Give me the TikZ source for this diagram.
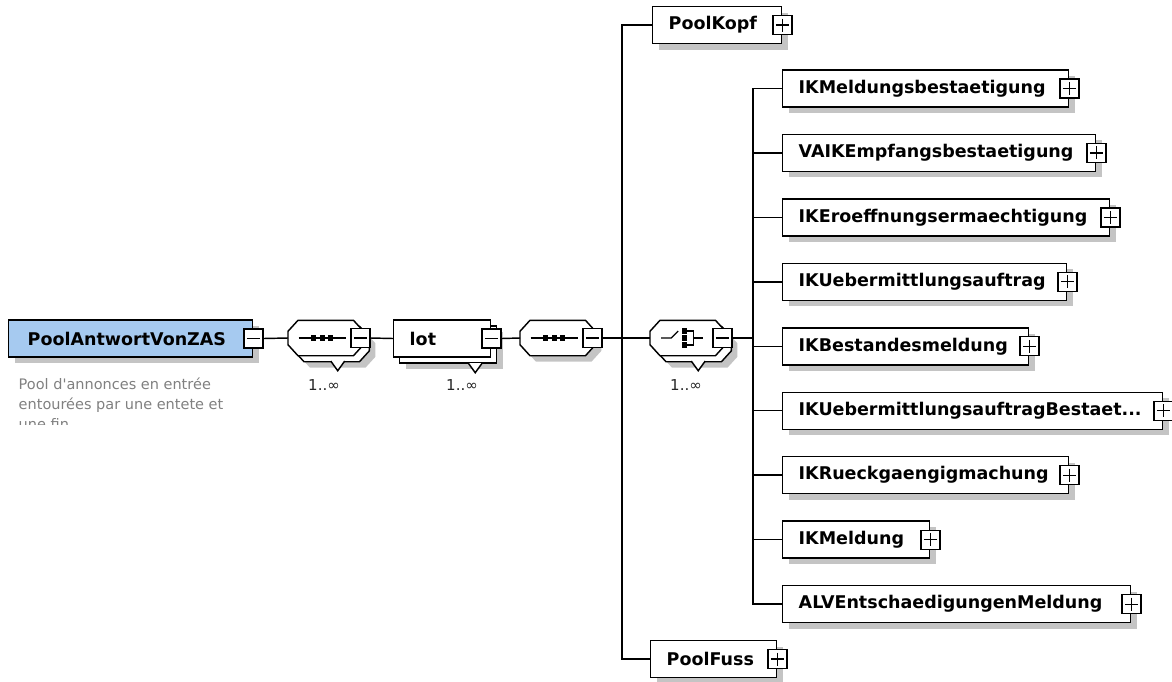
\documentclass[tikz,border=0pt]{standalone}
\usepackage{fontspec}
\setmainfont{DejaVu Sans}
\usetikzlibrary{positioning,shadows}
\definecolor{rootblue}{RGB}{166,202,240}
\definecolor{descgray}{RGB}{128,128,128}
\definecolor{shadowgray}{RGB}{196,196,196}

\begin{document}
\begin{tikzpicture}[x=1pt, y=-1pt, line width=1.45pt,
    node distance=26pt,
    dropsh/.style={drop shadow={shadow xshift=6pt, shadow yshift=-6pt, opacity=1, fill=shadowgray}},
    elembox/.style={rectangle, draw, fill=white, anchor=west, minimum width=#1pt, text width=#1pt-32pt, minimum height=37pt, inner xsep=16pt, inner ysep=0pt, align=left, font=\fontsize{17.5}{20}\selectfont\bfseries},
    elem/.style={elembox=#1, dropsh},
    oct/.style={rectangle, anchor=west, minimum width=74pt, minimum height=34pt, inner sep=0pt},
    mtog/.style={rectangle, draw, fill=white, minimum size=19pt, inner sep=0pt, line width=1.3pt,
        path picture={\draw[line width=1.1pt] ([xshift=3pt]path picture bounding box.west) -- ([xshift=-3pt]path picture bounding box.east);}},
    ptog/.style={rectangle, draw, fill=white, minimum size=19pt, inner sep=0pt, line width=1.3pt,
        path picture={\draw[line width=1.1pt] ([xshift=3pt]path picture bounding box.west) -- ([xshift=-3pt]path picture bounding box.east)
            ([yshift=-3pt]path picture bounding box.north) -- ([yshift=3pt]path picture bounding box.south);}},
    mult/.style={font=\fontsize{15}{18}\selectfont, text=black!85, inner sep=0pt},
    symb/.style={line width=1.2pt}
]
\useasboundingbox (0,0) rectangle (1172,681);

% root element
\node[elem=244, fill=rootblue, inner xsep=19pt, text width=244pt-38pt] (root) at (8,338.5) {PoolAntwortVonZAS};
\node[mtog] (roott) at (root.east) {};
\begin{scope}
  \clip (0,362) rectangle (300,424);
  \node[anchor=north west, align=left, inner sep=0pt, text=descgray, font=\fontsize{14.5}{20}\selectfont] (desc) at (18,377) {Pool d\textquotesingle{}annonces en entrée\\entourées par une entete et\\une fin};
\end{scope}

% compositors (octagons)
\node[oct] (s1c) at (294,344) {};
\node[oct] (s1) at (288,338) {};
\node[oct] (s2) at (520,338) {};
\node[oct] (chc) at (656,344) {};
\node[oct] (ch) at (650,338) {};
\foreach \n/\sh in {s1c/dropsh, s2/dropsh, chc/dropsh, s1/, ch/}
  \draw[fill=white, \sh] ([xshift=10pt]\n.north west) -- ([xshift=-10pt]\n.north east) -- ([yshift=-11pt]\n.north east)
    -- ([yshift=11pt]\n.south east) -- ([xshift=-10pt]\n.south east) -- ([xshift=10pt]\n.south west)
    -- ([yshift=11pt]\n.south west) -- ([yshift=-11pt]\n.north west) -- cycle;
\filldraw[fill=white] ([xshift=6pt]s1c.south) ++(-7,-0.7) -- ++(7,9.7) -- ++(7,-9.7);
\filldraw[fill=white] ([xshift=4.5pt]chc.south) ++(-7,-0.7) -- ++(7,9.7) -- ++(7,-9.7);

% first sequence 1..inf
\node[mtog] (s1t) at ([xshift=-3pt]s1.east) {};
\draw[symb] ([xshift=-27pt]s1.center) -- ([xshift=20pt]s1.center);
\foreach \dx in {-12,-3.5,5}
  \fill ([xshift=\dx pt]s1.center) ++(-2.6,-2.6) rectangle ++(5.2,5.2);
\node[mult] (m1) at (324,385) {1..∞};

% lot
\node[elem=97] (lotc) at (399,344.5) {};
\filldraw[fill=white] ([xshift=27pt]lotc.south) ++(-7,-0.7) -- ++(7,9.7) -- ++(7,-9.7);
\node[elembox=97] (lot) at (393,338.5) {lot};
\node[mtog] (lott) at (lot.east) {};
\node[mult] (m2) at (462,385) {1..∞};

% second sequence
\node[mtog] (s2t) at ([xshift=-3pt]s2.east) {};
\draw[symb] ([xshift=-27pt]s2.center) -- ([xshift=20pt]s2.center);
\foreach \dx in {-12,-3.5,5}
  \fill ([xshift=\dx pt]s2.center) ++(-2.6,-2.6) rectangle ++(5.2,5.2);

% choice 1..inf
\node[mtog] (cht) at ([xshift=-3pt]ch.east) {};
\draw[symb] ([xshift=-26.5pt]ch.center) -- ++(10,0) -- ++(7,-7);
\foreach \dy in {-7,0,7}
  \fill ([xshift=-3.5pt, yshift=-\dy pt]ch.center) ++(-2.6,-2.6) rectangle ++(5.2,5.2);
\draw[symb] ([xshift=-3.5pt, yshift=7pt]ch.center) -- ++(9,0) -- ++(0,14) -- ++(-9,0)
  ([xshift=5.5pt]ch.center) -- ++(10,0);
\node[mult] (m3) at (686,385) {1..∞};

% head and foot
\node[elem=129] (kopf) at (652,25) {PoolKopf};
\node[ptog] (kopft) at (kopf.east) {};
\node[elem=126] (fuss) at (650,659) {PoolFuss};
\node[ptog] (fusst) at (fuss.east) {};

% choice members
\node[elem=286] (k1) at (782,88.5) {IKMeldungsbestaetigung};
\node[elem=313, below=of k1.south west, anchor=north west] (k2) {VAIKEmpfangsbestaetigung};
\node[elem=327, below=of k2.south west, anchor=north west] (k3) {IKEroeffnungsermaechtigung};
\node[elem=284, below=of k3.south west, anchor=north west] (k4) {IKUebermittlungsauftrag};
\node[elem=246, below=of k4.south west, anchor=north west] (k5) {IKBestandesmeldung};
\node[elem=380, below=of k5.south west, anchor=north west] (k6) {IKUebermittlungsauftragBestaet...};
\node[elem=286, below=of k6.south west, anchor=north west] (k7) {IKRueckgaengigmachung};
\node[elem=147, below=of k7.south west, anchor=north west] (k8) {IKMeldung};
\node[elem=348, below=of k8.south west, anchor=north west] (k9) {ALVEntschaedigungenMeldung};

% connectors
\coordinate (t1) at (622,338);
\coordinate (t2) at (753,338);
\draw (roott.east) -- (s1.west);
\draw (s1t.east) -- (lot.west);
\draw (lott.east) -- (s2.west);
\draw (s2t.east) -- (ch.west);
\draw (kopf.west) -| (t1) |- (fuss.west);
\draw (cht.east) -- (t2);
\foreach \i in {1,...,9} {
  \node[ptog] (p\i) at (k\i.east) {};
  \draw (t2) |- (k\i.west);
}
\end{tikzpicture}
\end{document}
